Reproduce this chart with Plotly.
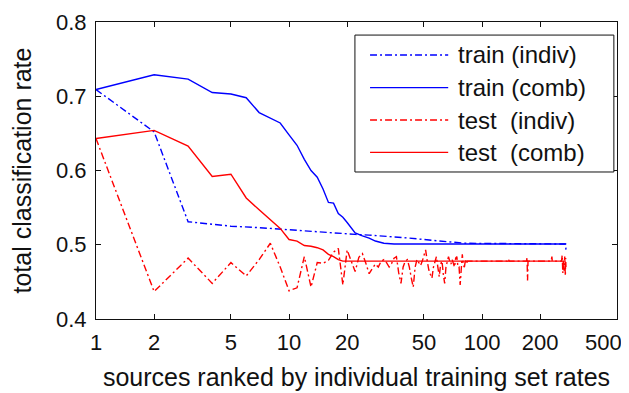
import plotly.graph_objects as go

# ---------------- data ----------------
series_names = ["train (indiv)", "train (comb)", "test  (indiv)", "test  (comb)"]

train_indiv_x = [1, 2, 3, 4, 5, 7, 10, 15, 22, 26, 42, 60, 83, 271, 272]
train_indiv_y = [0.709, 0.652, 0.531, 0.528, 0.525, 0.523, 0.520, 0.517, 0.514,
                 0.513, 0.509, 0.505, 0.502, 0.501, 0.493]

train_comb_x = [1, 2, 3, 4, 5, 6, 7, 8, 9, 10, 11, 12, 13, 14, 15, 16, 17, 18, 19,
                20, 21, 22, 24, 26, 28, 31, 35, 272]
train_comb_y = [0.709, 0.729, 0.723, 0.705, 0.703, 0.698, 0.678, 0.671, 0.664,
                0.648, 0.634, 0.615, 0.600, 0.591, 0.575, 0.557, 0.556, 0.542,
                0.537, 0.530, 0.522, 0.516, 0.512, 0.509, 0.505, 0.502, 0.501, 0.501]

test_indiv_x = list(range(1, 86)) + [135, 137, 138, 170, 171, 172, 173, 228, 230,
                                     231, 258, 260, 262, 264, 266, 268, 270, 271, 272]
test_indiv_y = [
    0.643, 0.437, 0.482, 0.448, 0.476, 0.458, 0.480, 0.502, 0.470, 0.438,
    0.442, 0.484, 0.443, 0.476, 0.475, 0.479, 0.490, 0.495, 0.446, 0.493,
    0.478, 0.464, 0.483, 0.488, 0.475, 0.461, 0.468, 0.474, 0.470, 0.478,
    0.480, 0.476, 0.470, 0.475, 0.482, 0.484, 0.462, 0.448, 0.470, 0.478,
    0.480, 0.470, 0.455, 0.443, 0.470, 0.480, 0.476, 0.472, 0.478, 0.486,
    0.493, 0.478, 0.466, 0.460, 0.455, 0.470, 0.478, 0.484, 0.470, 0.457,
    0.474, 0.478, 0.460, 0.448, 0.470, 0.478, 0.484, 0.478, 0.474, 0.480,
    0.476, 0.470, 0.482, 0.484, 0.470, 0.470, 0.446, 0.470, 0.487, 0.472,
    0.470, 0.480, 0.474, 0.478, 0.478,
    0.478, 0.481, 0.478, 0.478, 0.483, 0.452, 0.478, 0.478, 0.484,
    0.478, 0.478, 0.486, 0.462, 0.480, 0.465, 0.484, 0.458, 0.482, 0.470]

test_comb_x = [1, 2, 3, 4, 5, 6, 7, 8, 9, 10, 11, 12, 13, 14, 15, 16, 17, 18, 19, 272]
test_comb_y = [0.643, 0.654, 0.633, 0.592, 0.595, 0.563, 0.547, 0.533, 0.522, 0.507,
               0.505, 0.499, 0.498, 0.496, 0.493, 0.487, 0.484, 0.480, 0.478, 0.478]

x_tick_vals = [1, 2, 5, 10, 20, 50, 100, 200, 500]
x_tick_text = ["1", "2", "5", "10", "20", "50", "100", "200", "500"]
y_tick_vals = [0.4, 0.5, 0.6, 0.7, 0.8]
y_tick_text = ["0.4", "0.5", "0.6", "0.7", "0.8"]

x_title = "sources ranked by individual training set rates"
y_title = "total classification rate"

# ---------------- styles ----------------
BLUE = "#0000ff"
RED = "#ff0000"
DASHDOT = "7px,3px,2px,3px"
FONT = "Liberation Sans, Arial, sans-serif"
INK = "#111"
colors = [BLUE, BLUE, RED, RED]
dashes = [DASHDOT, "solid", DASHDOT, "solid"]
xs = [train_indiv_x, train_comb_x, test_indiv_x, test_comb_x]
ys = [train_indiv_y, train_comb_y, test_indiv_y, test_comb_y]

fig = go.Figure()
for name, x, y, c, d in zip(series_names, xs, ys, colors, dashes):
    fig.add_trace(go.Scatter(x=x, y=y, mode="lines", name=name,
                             line=dict(color=c, width=1.4, dash=d),
                             showlegend=False))

axis_common = dict(
    showline=True, linecolor=INK, linewidth=1, mirror="ticks",
    ticks="inside", ticklen=5, tickcolor=INK, showgrid=False, zeroline=False,
    tickfont=dict(family=FONT, size=22, color=INK),
)
# the last x label (500) sits at the figure edge; like MATLAB it is drawn
# shifted inward, as an annotation, so the axis shows the others
fig.update_xaxes(type="log", range=[0, 2.69897], tickvals=x_tick_vals,
                 ticktext=x_tick_text[:-1] + [""], ticklabelstandoff=4,
                 title=dict(text=x_title, font=dict(family=FONT, size=25, color=INK),
                            standoff=14),
                 **axis_common)
fig.update_yaxes(range=[0.4, 0.8], tickvals=y_tick_vals, ticktext=y_tick_text,
                 ticklabelstandoff=4,
                 title=dict(text=y_title, font=dict(family=FONT, size=25, color=INK),
                            standoff=17),
                 **axis_common)
fig.add_annotation(xref="paper", yref="paper", x=0.975, y=-0.078,
                   text=x_tick_text[-1], showarrow=False, xanchor="center",
                   yanchor="middle", font=dict(family=FONT, size=22, color=INK))

# ---------------- custom legend (MATLAB style box) ----------------
fig.add_shape(type="rect", xref="paper", yref="paper", x0=0.497, x1=0.994,
              y0=0.495, y1=0.956, line=dict(color=INK, width=1),
              fillcolor="white", layer="above")
legend_rows = [0.889, 0.779, 0.670, 0.561]
for name, c, d, yy in zip(series_names, colors, dashes, legend_rows):
    fig.add_shape(type="line", xref="paper", yref="paper", x0=0.526, x1=0.676,
                  y0=yy, y1=yy, line=dict(color=c, width=1.4, dash=d), layer="above")
    fig.add_annotation(xref="paper", yref="paper", x=0.691, y=yy, text=name,
                       showarrow=False, xanchor="left", yanchor="middle",
                       font=dict(family=FONT, size=24, color=INK))

# page body has an 8px margin, so the figure is 8px smaller on each axis
fig.update_layout(
    width=621, height=385,
    margin=dict(l=88, r=12, t=14, b=74, autoexpand=False),
    paper_bgcolor="white", plot_bgcolor="white",
    font=dict(family=FONT, color=INK),
)

fig.write_html("out.html")
